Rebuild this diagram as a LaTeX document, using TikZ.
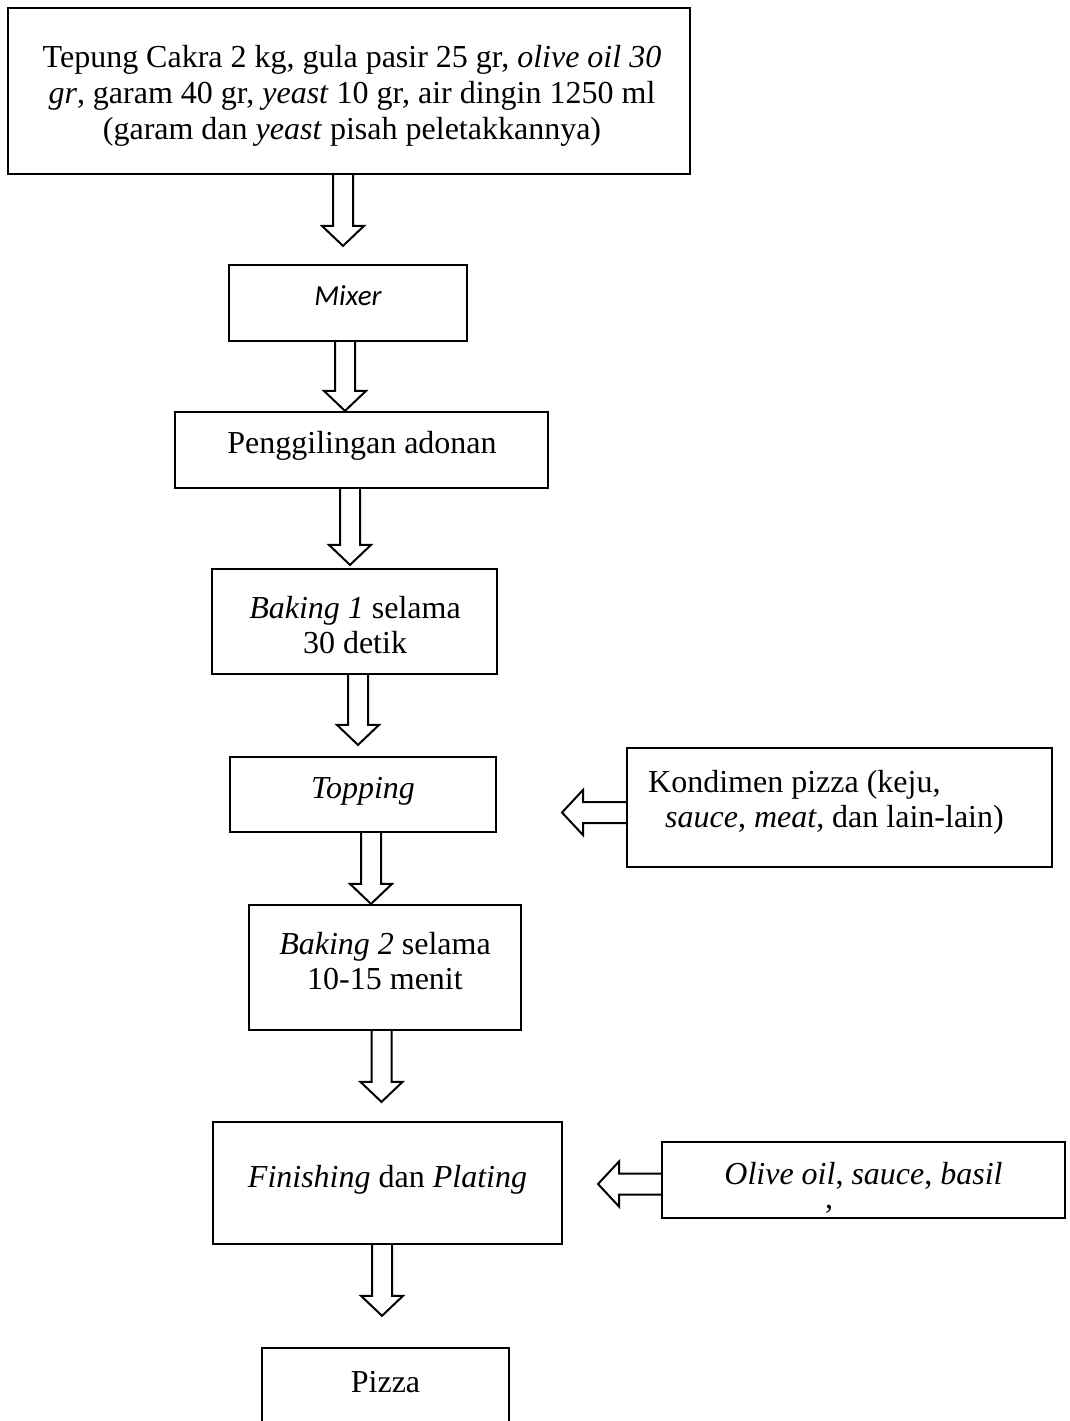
\documentclass[tikz,border=0pt]{standalone}
\usepackage{fontspec}
\setmainfont{Liberation Serif}
\newfontfamily\calibri{Carlito}
\usetikzlibrary{calc}
\newcommand\varrow[4]{% #1 from node, #2 to node, #3 x centre, #4 gap above target
  \coordinate (#1-s) at (#3,0 |- #1.south);
  \coordinate (#1-tip) at ($(#3,0 |- #2.north)+(0,-#4)$);
  \draw[hollow] ([xshift=-10pt]#1-s) -- ([xshift=-10pt,yshift=20pt]#1-tip)
    -- ([xshift=-21pt,yshift=20pt]#1-tip) -- (#1-tip)
    -- ([xshift=21pt,yshift=20pt]#1-tip) -- ([xshift=10pt,yshift=20pt]#1-tip)
    -- ([xshift=10pt]#1-s);
}
\newcommand\harrow[3]{% #1 from node, #2 tip x, #3 shaft centre y
  \coordinate (#1-s) at (#1.west |- 0,#3);
  \coordinate (#1-tip) at (#2,#3);
  \draw[hollow] ([yshift=10.5pt]#1-s) -- ([xshift=21pt,yshift=10.5pt]#1-tip)
    -- ([xshift=21pt,yshift=22.5pt]#1-tip) -- (#1-tip)
    -- ([xshift=21pt,yshift=-22.5pt]#1-tip) -- ([xshift=21pt,yshift=-10.5pt]#1-tip)
    -- ([yshift=-10.5pt]#1-s);
}
\begin{document}
\begin{tikzpicture}[x=1pt,y=-1pt,
  box/.style={draw, line width=2.2pt, inner sep=0pt},
  txt/.style={inner sep=0pt, font=\fontsize{32}{35}\selectfont, align=center},
  hollow/.style={draw, line width=2pt, line join=miter}]
\useasboundingbox (0,0) rectangle (1069,1421);
\fill[white] (0,0) rectangle (1069,1421);

% boxes
\node[box, minimum width=682pt, minimum height=166pt] (top) at (349,91) {};
\node[box, minimum width=238pt, minimum height=76pt] (mixer) at (348,303) {};
\node[box, minimum width=373pt, minimum height=76pt] (peng) at (361.5,450) {};
\node[box, minimum width=285pt, minimum height=105pt] (bak1) at (354.5,621.5) {};
\node[box, minimum width=266pt, minimum height=75pt] (topping) at (363,794.5) {};
\node[box, minimum width=425pt, minimum height=119pt] (kond) at (839.5,807.5) {};
\node[box, minimum width=272pt, minimum height=125pt] (bak2) at (385,967.5) {};
\node[box, minimum width=349pt, minimum height=122pt] (fin) at (387.5,1183) {};
\node[box, minimum width=403pt, minimum height=76pt] (olive) at (863.5,1180) {};
\node[inner sep=0pt, minimum width=247pt, minimum height=73pt] (pizza) at (385.5,1384.5) {};
\draw[line width=2.2pt] (pizza.south west) -- (pizza.north west) -- (pizza.north east) -- (pizza.south east);

% texts
\node[txt] (top-text) at (352,96) {Tepung Cakra 2 kg, gula pasir 25 gr, \textit{olive oil 30}\\[1pt]
  \textit{gr}, garam 40 gr, \textit{yeast} 10 gr, air dingin 1250 ml\\[1pt]
  (garam dan \textit{yeast} pisah peletakkannya)};
\node[inner sep=0pt, font=\calibri\itshape\fontsize{29}{35}\selectfont] (mixer-text) at (348,296) {Mixer};
\node[txt] (peng-text) at (362,446) {Penggilingan adonan};
\node[txt] (bak1-text) at (355,625) {\textit{Baking 1} selama\\30 detik};
\node[txt] (topping-text) at (363,791) {\textit{Topping}};
\node[txt, align=left, anchor=west] (kond-text) at (648,802) {Kondimen pizza (keju,\\\hspace*{17pt}\textit{sauce}, \textit{meat}, dan lain-lain)};
\node[txt] (bak2-text) at (385,961) {\textit{Baking 2} selama\\10-15 menit};
\node[txt] (fin-text) at (387.5,1180) {\textit{Finishing} dan \textit{Plating}};
\node[txt] (olive-text) at (863.5,1176) {\textit{Olive oil}, \textit{sauce}, \textit{basil}};
\begin{scope}
  \clip ([yshift=26pt]olive.south west) rectangle ([yshift=2pt]olive.south east);
  \node[inner sep=0pt, anchor=north, font=\fontsize{32}{35}\selectfont] (olive-comma) at (829,1205) {,};
\end{scope}
\node[txt] (pizza-text) at (385.5,1382) {Pizza};

% arrows
\varrow{top}{mixer}{343}{18}
\varrow{mixer}{peng}{345}{0}
\varrow{peng}{bak1}{350}{3}
\varrow{bak1}{topping}{358}{11}
\varrow{topping}{bak2}{371}{0}
\varrow{bak2}{fin}{381.5}{19}
\varrow{fin}{pizza}{382}{32}
\harrow{kond}{562}{812.5}
\harrow{olive}{598}{1184}
\end{tikzpicture}
\end{document}
